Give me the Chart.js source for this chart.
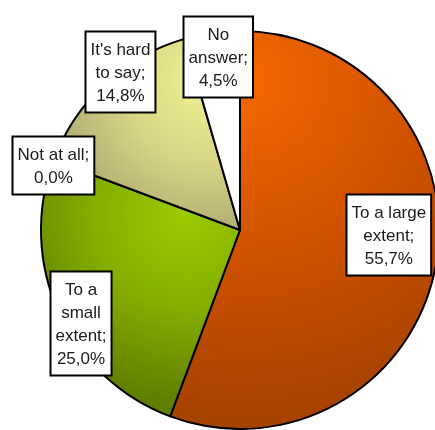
<!DOCTYPE html>
<html>
<head>
<meta charset="utf-8">
<script src="https://cdn.jsdelivr.net/npm/chart.js"></script>
<style>
  html, body { margin: 0; padding: 0; background: #fff; overflow: hidden; }
  .chartBox { width: 480px; height: 430px; }
</style>
</head>
<body>
<div class="chartBox"><canvas id="pieChart"></canvas></div>
<script>
const categories = ["To a large\nextent;", "To a\nsmall\nextent;", "Not at all;", "It's hard\nto say;", "No\nanswer;"];
const shares = [55.7, 25.0, 0.0, 14.8, 4.5];

// gradient per slice: light centre (in radius units from pie centre), spread, colours
const sliceFills = [
  { cx: 0.03, cy: -0.75, spread: 1.7, light: "#f46800", mid: "#d05200", dark: "#a64200" },
  { cx: -0.27, cy: -0.08, spread: 0.95, light: "#9acb00", mid: "#84ad00", dark: "#5e7e00" },
  { cx: -0.27, cy: -0.08, spread: 0.95, light: "#9acb00", mid: "#84ad00", dark: "#5e7e00" },
  { cx: -0.17, cy: -0.75, spread: 0.85, light: "#f2f291", mid: "#d6d384", dark: "#a8a470" },
  null
];

// label box placement: distance as part of radius, turn from the slice middle (deg)
const labelDist = [0.748, 0.925, 0.995, 1.0, 0.88];
const labelTurn = [-8.7, -5.7, -1.3, 5.8, 0.9];

const pieCanvas = document.getElementById("pieChart");

function sliceColor(ctx) {
  const fill = sliceFills[ctx.dataIndex];
  if (!fill) return "#ffffff";
  const area = ctx.chart.chartArea;
  if (!area) return fill.mid;
  const r = Math.min(area.right - area.left, area.bottom - area.top) / 2;
  const x0 = (area.left + area.right) / 2 + fill.cx * r;
  const y0 = (area.top + area.bottom) / 2 + fill.cy * r;
  const g = ctx.chart.ctx.createRadialGradient(x0, y0, 0, x0, y0, fill.spread * r);
  g.addColorStop(0, fill.light);
  g.addColorStop(0.5, fill.mid);
  g.addColorStop(1, fill.dark);
  return g;
}

const boxLabels = {
  id: "boxLabels",
  afterDatasetsDraw(chart) {
    const c = chart.ctx;
    const arcs = chart.getDatasetMeta(0).data;
    c.save();
    c.font = "17px 'Liberation Sans', Arial, sans-serif";
    c.textAlign = "center";
    c.textBaseline = "middle";
    arcs.forEach((arc, i) => {
      const lines = categories[i].split("\n");
      lines.push(shares[i].toFixed(1).replace(".", ",") + "%");
      const mid = (arc.startAngle + arc.endAngle) / 2 + labelTurn[i] * Math.PI / 180;
      const d = labelDist[i] * arc.outerRadius;
      const x = arc.x + Math.cos(mid) * d;
      const y = arc.y + Math.sin(mid) * d;
      const w = Math.max(...lines.map((t) => c.measureText(t).width)) + 10;
      const h = lines.length * 23 + 12;
      const left = Math.round(x - w / 2) + 0.5;
      const top = Math.round(y - h / 2) + 0.5;
      c.fillStyle = "#ffffff";
      c.fillRect(left, top, w, h);
      c.lineWidth = 2;
      c.strokeStyle = "#000000";
      c.strokeRect(left, top, w, h);
      c.fillStyle = "#1a1a1a";
      lines.forEach((t, k) => {
        c.fillText(t, left + w / 2, top + 6 + 11.5 + k * 23 + 1);
      });
    });
    c.restore();
  },
};

new Chart(pieCanvas, {
  type: "pie",
  data: {
    labels: categories,
    datasets: [
      {
        data: shares,
        backgroundColor: sliceColor,
        borderColor: "#000000",
        borderWidth: 2,
        borderJoinStyle: "round",
      },
    ],
  },
  options: {
    responsive: true,
    maintainAspectRatio: false,
    animation: false,
    layout: { padding: { left: 40, right: 40, top: 30, bottom: 0 } },
    plugins: {
      legend: { display: false },
      tooltip: { enabled: false },
    },
  },
  plugins: [boxLabels],
});
</script>
</body>
</html>
